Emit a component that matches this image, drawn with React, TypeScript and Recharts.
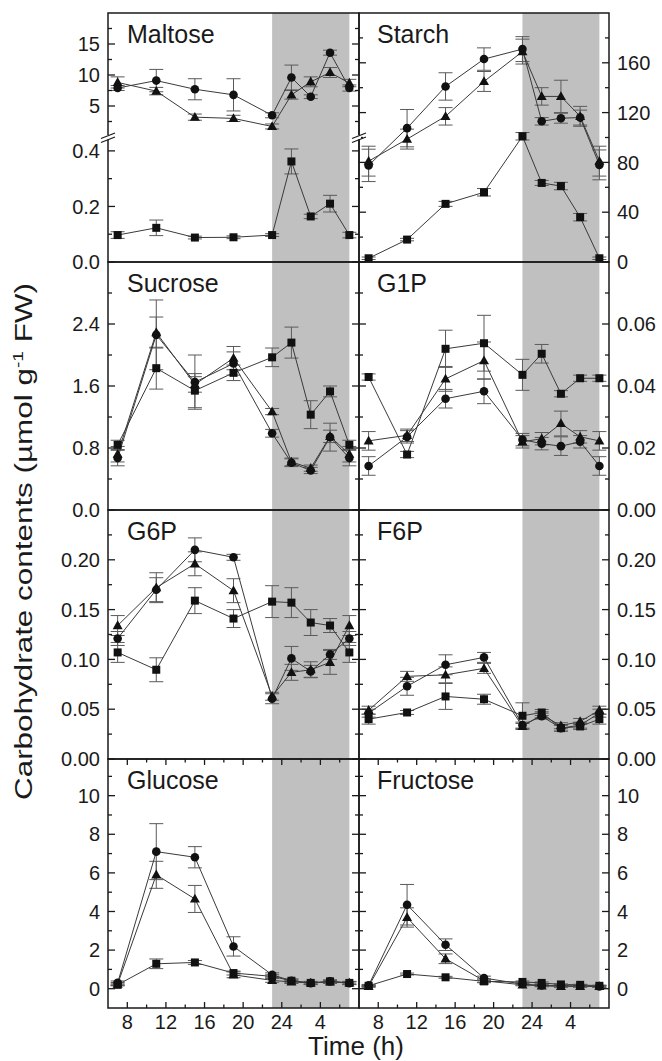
import React from 'react';
import { LineChart, Line, XAxis, YAxis, ReferenceArea, ErrorBar } from 'recharts';

const FONT = '"Liberation Sans", Arial, Helvetica, sans-serif';
const INK = '#1a1a1a';

// sampling times in hours; 25..31 are 1..7 h on the next day
const times = [7, 11, 15, 19, 23, 25, 27, 29, 31];
const xTicks = [8, 10, 12, 14, 16, 18, 20, 22, 24, 26, 28, 30];
const xMajor = [8, 12, 16, 20, 24, 28];
const xLabels = ['8', '12', '16', '20', '24', '4'];
const nightStart = 23;
const nightEnd = 31;

// Maltose (circles/triangles on the upper scale, squares on the lower one)
const maltoseCircle = [7.9, 9.1, 7.7, 6.8, 3.5, 9.6, 6.5, 13.6, 7.9];
const maltoseCircleErr = [0.4, 1.8, 1.7, 2.6, 0.4, 2.0, 0.3, 0.4, 0.5];
const maltoseTriangle = [8.8, 7.4, 3.2, 3.0, 1.7, 6.8, 8.9, 10.4, 8.7];
const maltoseTriangleErr = [0.9, 0.6, 0.5, 0.5, 0.4, 0.7, 0.8, 0.8, 0.6];
const maltoseSquare = [0.097, 0.123, 0.088, 0.089, 0.097, 0.362, 0.164, 0.21, 0.097];
const maltoseSquareErr = [0.012, 0.028, 0.005, 0.005, 0.005, 0.045, 0.008, 0.03, 0.01];

// Starch
const starchCircle = [77.6, 107.5, 141, 163, 171, 113, 115.5, 116, 78];
const starchCircleErr = [13, 15, 11, 9, 10, 3, 4, 6, 12];
const starchTriangle = [81, 98.7, 117, 145, 169, 133, 133, 117, 81];
const starchTriangleErr = [12, 8, 7, 8, 10, 7, 13, 8, 12];
const starchSquare = [3, 18, 46.7, 56, 101, 63.5, 61, 36, 3];
const starchSquareErr = [1, 1, 2, 3, 3, 2, 3, 3, 1];

// Sucrose
const sucroseCircle = [0.67, 2.26, 1.65, 1.89, 0.99, 0.61, 0.51, 0.94, 0.67];
const sucroseCircleErr = [0.1, 0.45, 0.35, 0.15, 0.05, 0.05, 0.04, 0.18, 0.1];
const sucroseTriangle = [0.72, 2.29, 1.62, 1.96, 1.27, 0.62, 0.54, 0.95, 0.72];
const sucroseTriangleErr = [0.1, 0.2, 0.1, 0.15, 0.04, 0.05, 0.04, 0.08, 0.1];
const sucroseSquare = [0.84, 1.83, 1.54, 1.77, 1.97, 2.16, 1.23, 1.53, 0.84];
const sucroseSquareErr = [0.06, 0.27, 0.22, 0.1, 0.12, 0.2, 0.18, 0.07, 0.06];

// G1P
const g1pCircle = [0.0142, 0.0236, 0.0359, 0.0383, 0.0227, 0.0214, 0.0206, 0.022, 0.0142];
const g1pCircleErr = [0.003, 0.002, 0.003, 0.004, 0.002, 0.002, 0.003, 0.002, 0.003];
const g1pTriangle = [0.0223, 0.0241, 0.0423, 0.0482, 0.022, 0.023, 0.0279, 0.0236, 0.0223];
const g1pTriangleErr = [0.003, 0.002, 0.004, 0.006, 0.002, 0.002, 0.004, 0.002, 0.003];
const g1pSquare = [0.0429, 0.0179, 0.052, 0.0538, 0.0436, 0.0504, 0.0375, 0.0425, 0.0425];
const g1pSquareErr = [0.001, 0.001, 0.006, 0.009, 0.005, 0.003, 0.001, 0.001, 0.001];

// G6P
const g6pCircle = [0.121, 0.17, 0.21, 0.2025, 0.0605, 0.101, 0.088, 0.105, 0.121];
const g6pCircleErr = [0.007, 0.012, 0.012, 0.003, 0.005, 0.012, 0.006, 0.005, 0.007];
const g6pTriangle = [0.134, 0.172, 0.196, 0.169, 0.063, 0.087, 0.0896, 0.097, 0.134];
const g6pTriangleErr = [0.01, 0.015, 0.012, 0.012, 0.004, 0.008, 0.008, 0.012, 0.01];
const g6pSquare = [0.107, 0.0896, 0.159, 0.141, 0.158, 0.157, 0.137, 0.134, 0.107];
const g6pSquareErr = [0.01, 0.012, 0.013, 0.009, 0.016, 0.015, 0.013, 0.007, 0.01];

// F6P
const f6pCircle = [0.046, 0.073, 0.0946, 0.102, 0.034, 0.043, 0.031, 0.034, 0.046];
const f6pCircleErr = [0.004, 0.009, 0.01, 0.005, 0.003, 0.003, 0.003, 0.003, 0.004];
const f6pTriangle = [0.049, 0.083, 0.0845, 0.091, 0.0327, 0.0444, 0.0334, 0.0377, 0.049];
const f6pTriangleErr = [0.004, 0.005, 0.008, 0.005, 0.003, 0.003, 0.003, 0.003, 0.004];
const f6pSquare = [0.04, 0.0467, 0.0628, 0.06, 0.0434, 0.0467, 0.031, 0.0327, 0.04];
const f6pSquareErr = [0.005, 0.002, 0.013, 0.005, 0.013, 0.003, 0.003, 0.003, 0.005];

// Glucose
const glucoseCircle = [0.3, 7.1, 6.81, 2.19, 0.72, 0.41, 0.29, 0.38, 0.29];
const glucoseCircleErr = [0.1, 1.45, 0.55, 0.5, 0.1, 0.1, 0.08, 0.08, 0.08];
const glucoseTriangle = [0.24, 5.9, 4.65, 0.72, 0.43, 0.35, 0.3, 0.35, 0.3];
const glucoseTriangleErr = [0.08, 0.7, 0.7, 0.15, 0.1, 0.08, 0.08, 0.08, 0.08];
const glucoseSquare = [0.2, 1.29, 1.36, 0.81, 0.64, 0.41, 0.3, 0.38, 0.3];
const glucoseSquareErr = [0.05, 0.25, 0.1, 0.1, 0.08, 0.05, 0.05, 0.05, 0.05];

// Fructose
const fructoseCircle = [0.17, 4.35, 2.28, 0.55, 0.24, 0.17, 0.15, 0.15, 0.12];
const fructoseCircleErr = [0.05, 1.05, 0.3, 0.1, 0.05, 0.05, 0.05, 0.05, 0.05];
const fructoseTriangle = [0.12, 3.69, 1.55, 0.41, 0.2, 0.15, 0.12, 0.12, 0.12];
const fructoseTriangleErr = [0.05, 0.5, 0.25, 0.1, 0.05, 0.05, 0.05, 0.05, 0.05];
const fructoseSquare = [0.15, 0.76, 0.59, 0.38, 0.35, 0.3, 0.22, 0.2, 0.15];
const fructoseSquareErr = [0.03, 0.05, 0.05, 0.05, 0.05, 0.05, 0.03, 0.03, 0.03];

// y ticks (labelled ones are the long ticks)
const maltoseHighTicks = [2.5, 5, 7.5, 10, 12.5, 15, 17.5];
const maltoseHighLabels = [5, 10, 15];
const maltoseLowTicks = [0, 0.1, 0.2, 0.3, 0.4];
const maltoseLowLabels = [0, 0.2, 0.4];
const starchTicks = [0, 20, 40, 60, 80, 100, 120, 140, 160, 180];
const starchLabels = [0, 40, 80, 120, 160];
const sucroseTicks = [0, 0.4, 0.8, 1.2, 1.6, 2.0, 2.4, 2.8];
const sucroseLabels = [0, 0.8, 1.6, 2.4];
const g1pTicks = [0, 0.01, 0.02, 0.03, 0.04, 0.05, 0.06, 0.07];
const g1pLabels = [0, 0.02, 0.04, 0.06];
const hexPTicks = [0, 0.025, 0.05, 0.075, 0.1, 0.125, 0.15, 0.175, 0.2, 0.225];
const hexPLabels = [0, 0.05, 0.1, 0.15, 0.2];
const hexoseTicks = [0, 1, 2, 3, 4, 5, 6, 7, 8, 9, 10, 11];
const hexoseLabels = [0, 2, 4, 6, 8, 10];

// layout
const colLeft = [0, 359];
const colWidth = [359, 303];
const yAxisWidth = [108, 53];
const plotWidth = [251, 250];
const rowTop = [13, 262, 510, 759];
const rowHeight = [249, 248, 249, 249];
const breakY = 137;
const pad = 12; // room above/below each plot for edge labels

type Shape = 'circle' | 'triangle' | 'square';
type Series = { id: string; shape: Shape; values: number[]; errors: number[] };
type PanelCfg = {
  col: number;
  top: number;
  height: number;
  domain: [number, number];
  ticks: number[];
  labels: number[];
  fmt: (v: number) => string;
  series: Series[];
  xEdges: 'both' | 'top' | 'bottom';
  xText?: boolean;
};

const int = (v: number) => String(v);
const f1 = (v: number) => v.toFixed(1);
const f2 = (v: number) => v.toFixed(2);

const trio = (c: number[], ce: number[], t: number[], te: number[], s: number[], se: number[]): Series[] => [
  { id: 'sq', shape: 'square', values: s, errors: se },
  { id: 'tri', shape: 'triangle', values: t, errors: te },
  { id: 'circ', shape: 'circle', values: c, errors: ce },
];

const panels: PanelCfg[] = [
  {
    col: 0, top: 13, height: breakY - 13, domain: [0, 20], ticks: maltoseHighTicks, labels: maltoseHighLabels, fmt: int,
    series: [
      { id: 'tri', shape: 'triangle', values: maltoseTriangle, errors: maltoseTriangleErr },
      { id: 'circ', shape: 'circle', values: maltoseCircle, errors: maltoseCircleErr },
    ],
    xEdges: 'top',
  },
  {
    col: 0, top: breakY, height: 262 - breakY, domain: [0, 0.45], ticks: maltoseLowTicks, labels: maltoseLowLabels, fmt: f1,
    series: [{ id: 'sq', shape: 'square', values: maltoseSquare, errors: maltoseSquareErr }],
    xEdges: 'bottom',
  },
  {
    col: 1, top: rowTop[0], height: rowHeight[0], domain: [0, 200], ticks: starchTicks, labels: starchLabels, fmt: int,
    series: trio(starchCircle, starchCircleErr, starchTriangle, starchTriangleErr, starchSquare, starchSquareErr),
    xEdges: 'both',
  },
  {
    col: 0, top: rowTop[1], height: rowHeight[1], domain: [0, 3.2], ticks: sucroseTicks, labels: sucroseLabels, fmt: f1,
    series: trio(sucroseCircle, sucroseCircleErr, sucroseTriangle, sucroseTriangleErr, sucroseSquare, sucroseSquareErr),
    xEdges: 'both',
  },
  {
    col: 1, top: rowTop[1], height: rowHeight[1], domain: [0, 0.08], ticks: g1pTicks, labels: g1pLabels, fmt: f2,
    series: trio(g1pCircle, g1pCircleErr, g1pTriangle, g1pTriangleErr, g1pSquare, g1pSquareErr),
    xEdges: 'both',
  },
  {
    col: 0, top: rowTop[2], height: rowHeight[2], domain: [0, 0.25], ticks: hexPTicks, labels: hexPLabels, fmt: f2,
    series: trio(g6pCircle, g6pCircleErr, g6pTriangle, g6pTriangleErr, g6pSquare, g6pSquareErr),
    xEdges: 'both',
  },
  {
    col: 1, top: rowTop[2], height: rowHeight[2], domain: [0, 0.25], ticks: hexPTicks, labels: hexPLabels, fmt: f2,
    series: trio(f6pCircle, f6pCircleErr, f6pTriangle, f6pTriangleErr, f6pSquare, f6pSquareErr),
    xEdges: 'both',
  },
  {
    col: 0, top: rowTop[3], height: rowHeight[3], domain: [-1, 11.9], ticks: hexoseTicks, labels: hexoseLabels, fmt: int,
    series: trio(glucoseCircle, glucoseCircleErr, glucoseTriangle, glucoseTriangleErr, glucoseSquare, glucoseSquareErr),
    xEdges: 'both', xText: true,
  },
  {
    col: 1, top: rowTop[3], height: rowHeight[3], domain: [-1, 11.9], ticks: hexoseTicks, labels: hexoseLabels, fmt: int,
    series: trio(fructoseCircle, fructoseCircleErr, fructoseTriangle, fructoseTriangleErr, fructoseSquare, fructoseSquareErr),
    xEdges: 'both', xText: true,
  },
];

const titles = [
  { text: 'Maltose', col: 0, row: 0 },
  { text: 'Starch', col: 1, row: 0 },
  { text: 'Sucrose', col: 0, row: 1 },
  { text: 'G1P', col: 1, row: 1 },
  { text: 'G6P', col: 0, row: 2 },
  { text: 'F6P', col: 1, row: 2 },
  { text: 'Glucose', col: 0, row: 3 },
  { text: 'Fructose', col: 1, row: 3 },
];

const near = (list: number[], v: number) => list.some((m) => Math.abs(m - v) < 1e-9);

function renderDot(shape: Shape) {
  return (p: any) => {
    const { cx, cy, index } = p;
    if (cx == null || cy == null) return <g key={`d${index}`} />;
    if (shape === 'circle') return <circle key={`d${index}`} cx={cx} cy={cy} r={4.3} fill="#111" />;
    if (shape === 'square') return <rect key={`d${index}`} x={cx - 4} y={cy - 4} width={8} height={8} fill="#111" />;
    return <path key={`d${index}`} d={`M${cx},${cy - 5.2}L${cx + 5},${cy + 3.6}L${cx - 5},${cy + 3.6}Z`} fill="#111" />;
  };
}

function yTick(p: any, cfg: PanelCfg) {
  const { x, y, payload } = p;
  const v = payload.value;
  const major = near(cfg.labels, v);
  const dir = cfg.col === 0 ? 1 : -1;
  const len = major ? 7 : 4;
  const far = x + dir * plotWidth[cfg.col];
  return (
    <g>
      <line x1={x} y1={y} x2={x + dir * len} y2={y} stroke={INK} strokeWidth={1.3} />
      <line x1={far} y1={y} x2={far - dir * len} y2={y} stroke={INK} strokeWidth={1.3} />
      {major && (
        <text
          x={x - dir * 8}
          y={y}
          dy="0.36em"
          textAnchor={cfg.col === 0 ? 'end' : 'start'}
          fontSize={20}
          fontFamily={FONT}
          fill={INK}
        >
          {cfg.fmt(v)}
        </text>
      )}
    </g>
  );
}

function xTick(p: any, cfg: PanelCfg) {
  const { x, y, payload } = p;
  const v = payload.value;
  const idx = xMajor.indexOf(v);
  const len = idx >= 0 ? 6 : 3.5;
  const topY = y - cfg.height;
  return (
    <g>
      {cfg.xEdges !== 'top' && <line x1={x} y1={y} x2={x} y2={y - len} stroke={INK} strokeWidth={1.3} />}
      {cfg.xEdges !== 'bottom' && <line x1={x} y1={topY} x2={x} y2={topY + len} stroke={INK} strokeWidth={1.3} />}
      {cfg.xText && idx >= 0 && (
        <text x={x} y={y + 21} textAnchor="middle" fontSize={20} fontFamily={FONT} fill={INK}>
          {xLabels[idx]}
        </text>
      )}
    </g>
  );
}

function Panel({ cfg }: { cfg: PanelCfg }) {
  const data = times.map((t, i) => {
    const row: Record<string, number> = { t };
    cfg.series.forEach((s) => {
      row[s.id] = s.values[i];
      row[s.id + 'Err'] = s.errors[i];
    });
    return row;
  });
  const xH = cfg.xText ? 34 : 0;
  const bottom = cfg.xText ? 0 : pad;
  const side = cfg.col === 0 ? 'left' : 'right';
  return (
    <div style={{ position: 'absolute', left: colLeft[cfg.col], top: cfg.top - pad }}>
      <LineChart
        width={colWidth[cfg.col]}
        height={cfg.height + xH + pad + bottom}
        data={data}
        margin={{ top: pad, right: 0, bottom, left: 0 }}
      >
        <ReferenceArea x1={nightStart} x2={nightEnd} fill="#c0c0c0" fillOpacity={1} stroke="none" />
        <XAxis
          type="number"
          dataKey="t"
          domain={[6, 32]}
          allowDataOverflow
          ticks={xTicks}
          interval={0}
          height={xH}
          axisLine={false}
          tickLine={false}
          tickSize={0}
          tickMargin={0}
          tick={(p: any) => xTick(p, cfg)}
        />
        <YAxis
          type="number"
          orientation={side}
          width={yAxisWidth[cfg.col]}
          domain={cfg.domain}
          allowDataOverflow
          ticks={cfg.ticks}
          interval={0}
          axisLine={false}
          tickLine={false}
          tickSize={0}
          tickMargin={0}
          tick={(p: any) => yTick(p, cfg)}
        />
        {cfg.series.map((s) => (
          <Line
            key={s.id}
            dataKey={s.id}
            stroke="#3a3a3a"
            strokeWidth={1}
            dot={renderDot(s.shape)}
            activeDot={false}
            isAnimationActive={false}
          >
            <ErrorBar dataKey={s.id + 'Err'} width={7} stroke="#5a5a5a" strokeWidth={1} />
          </Line>
        ))}
      </LineChart>
    </div>
  );
}

function BreakMark({ x, y }: { x: number; y: number }) {
  return (
    <g>
      <rect x={x - 2} y={y - 2} width={4} height={4.5} fill="#fff" />
      <line x1={x - 7} y1={y + 1.5} x2={x + 7} y2={y - 4} stroke={INK} strokeWidth={1.3} />
      <line x1={x - 7} y1={y + 5.5} x2={x + 7} y2={y} stroke={INK} strokeWidth={1.3} />
    </g>
  );
}

export default function App() {
  const plotLeft = [yAxisWidth[0], colLeft[1]];
  return (
    <div style={{ position: 'absolute', left: 0, top: 0, width: 662, height: 1061, background: '#fff', overflow: 'hidden' }}>
      {panels.map((cfg, i) => (
        <Panel key={i} cfg={cfg} />
      ))}
      <svg width={662} height={1061} style={{ position: 'absolute', left: 0, top: 0, pointerEvents: 'none' }}>
        {rowTop.map((top, r) =>
          [0, 1].map((c) => (
            <rect
              key={`${r}-${c}`}
              x={plotLeft[c]}
              y={top}
              width={plotWidth[c]}
              height={rowHeight[r]}
              fill="none"
              stroke={INK}
              strokeWidth={1.5}
            />
          ))
        )}
        <BreakMark x={plotLeft[0]} y={breakY} />
        <BreakMark x={plotLeft[1]} y={breakY} />
        {titles.map((t) => (
          <text
            key={t.text}
            x={plotLeft[t.col] + (t.col === 0 ? 19 : 18)}
            y={rowTop[t.row] + 29.5}
            fontSize={25}
            fontFamily={FONT}
            fill={INK}
          >
            {t.text}
          </text>
        ))}
        <text x={356} y={1055} textAnchor="middle" fontSize={26} fontFamily={FONT} fill={INK}>
          Time (h)
        </text>
        <g transform="translate(32, 541.5) rotate(-90)">
          <text x={0} y={0} textAnchor="middle" fontSize={23} fontFamily={FONT} fill={INK} textLength={517} lengthAdjust="spacingAndGlyphs">
            Carbohydrate contents (µmol g
            <tspan dy={-9} fontSize={14}>-1</tspan>
            <tspan dy={9}> FW)</tspan>
          </text>
        </g>
      </svg>
    </div>
  );
}
